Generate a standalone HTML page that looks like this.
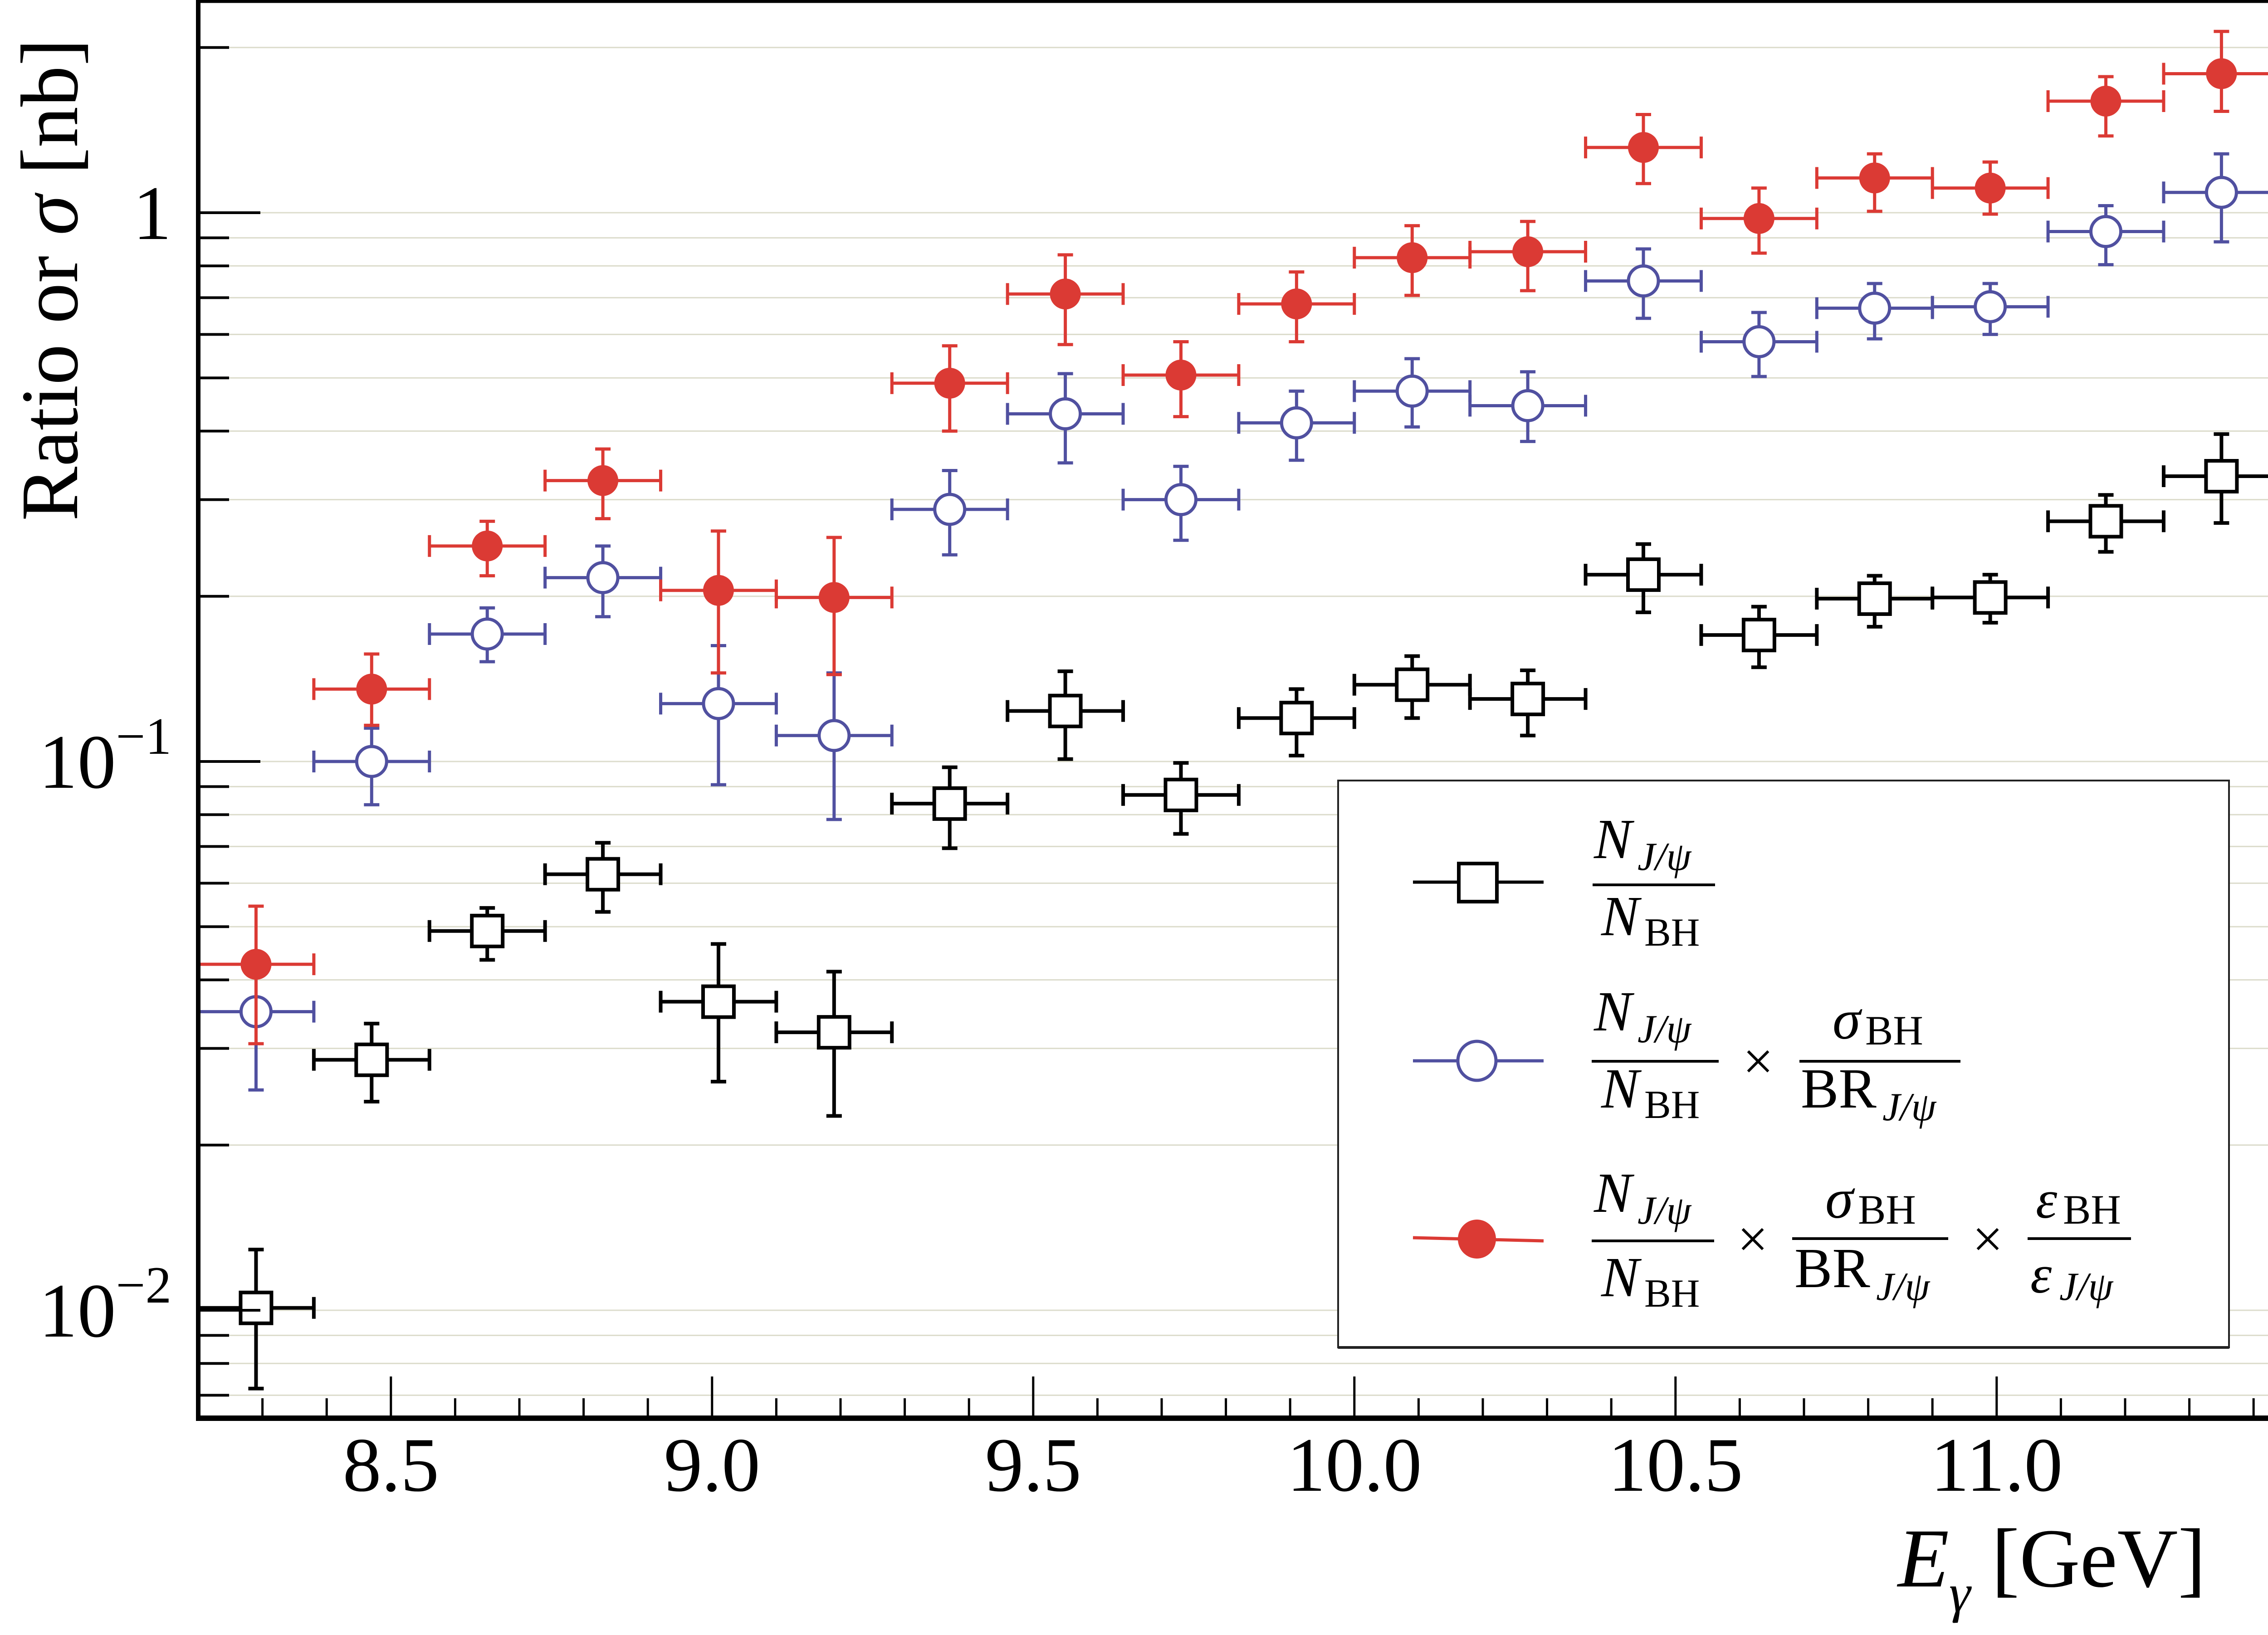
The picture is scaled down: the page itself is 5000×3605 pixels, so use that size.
<!DOCTYPE html>
<html><head><meta charset="utf-8"><style>
html,body{margin:0;padding:0;background:#fff;}
svg{display:block;}
text{font-family:"Liberation Serif",serif;}
</style></head><body>
<svg id="chart" width="5000" height="3605" viewBox="0 0 5000 3605" xmlns="http://www.w3.org/2000/svg">
<g id="grid"></g>
<g id="series"></g>
<g id="axes"></g>
<g id="legend">
<rect x="2950" y="1721" width="1964" height="1250" fill="#fff" stroke="#222" stroke-width="4"/>
<line x1="2950" y1="2971" x2="4914" y2="2971" stroke="#222" stroke-width="6"/>
<g>
<line x1="3115" y1="1945" x2="3403" y2="1945" stroke="#000" stroke-width="7"/>
<rect x="3216" y="1904" width="84" height="84" fill="#fff" stroke="#000" stroke-width="8"/>
<text x="3514" y="1892" font-size="125" font-style="italic">N</text>
<text x="3610" y="1918" font-size="88" font-style="italic">J/ψ</text>
<rect x="3511" y="1948" width="270" height="6" fill="#000"/>
<text x="3530" y="2062" font-size="125" font-style="italic">N</text>
<text x="3625" y="2085" font-size="88">BH</text>
</g>
<g>
<line x1="3115" y1="2339" x2="3403" y2="2339" stroke="#5050a0" stroke-width="7"/>
<ellipse cx="3256" cy="2339" rx="42" ry="43" fill="#fff" stroke="#5050a0" stroke-width="7"/>
<text x="3514" y="2272" font-size="125" font-style="italic">N</text>
<text x="3610" y="2298" font-size="88" font-style="italic">J/ψ</text>
<rect x="3509" y="2337" width="280" height="6" fill="#000"/>
<text x="3530" y="2442" font-size="125" font-style="italic">N</text>
<text x="3625" y="2465" font-size="88">BH</text>
<text x="3876" y="2380" font-size="120" text-anchor="middle">×</text>
<text x="4040" y="2290" font-size="125" font-style="italic">σ</text>
<text x="4112" y="2303" font-size="92">BH</text>
<rect x="3967" y="2337" width="355" height="6" fill="#000"/>
<text x="3970" y="2442" font-size="125">BR</text>
<text x="4150" y="2470" font-size="88" font-style="italic">J/ψ</text>
</g>
<g>
<line x1="3115" y1="2729" x2="3403" y2="2736" stroke="#db3a34" stroke-width="7"/>
<ellipse cx="3256" cy="2732" rx="42" ry="43" fill="#db3a34"/>
<text x="3514" y="2672" font-size="125" font-style="italic">N</text>
<text x="3610" y="2698" font-size="88" font-style="italic">J/ψ</text>
<rect x="3509" y="2733" width="270" height="6" fill="#000"/>
<text x="3530" y="2858" font-size="125" font-style="italic">N</text>
<text x="3625" y="2881" font-size="88">BH</text>
<text x="3864" y="2772" font-size="120" text-anchor="middle">×</text>
<text x="4024" y="2685" font-size="125" font-style="italic">σ</text>
<text x="4096" y="2698" font-size="92">BH</text>
<rect x="3951" y="2728" width="344" height="6" fill="#000"/>
<text x="3956" y="2838" font-size="125">BR</text>
<text x="4136" y="2866" font-size="88" font-style="italic">J/ψ</text>
<text x="4382" y="2772" font-size="120" text-anchor="middle">×</text>
<text x="4488" y="2685" font-size="120" font-style="italic">ε</text>
<text x="4548" y="2698" font-size="92">BH</text>
<rect x="4470" y="2728" width="228" height="6" fill="#000"/>
<text x="4476" y="2850" font-size="120" font-style="italic">ε</text>
<text x="4540" y="2866" font-size="88" font-style="italic">J/ψ</text>
</g>
</g>
<text x="4863" y="3498" font-size="185" text-anchor="end"><tspan font-style="italic">E</tspan><tspan font-size="120" font-style="italic" dy="55">γ</tspan><tspan dy="-55"> [GeV]</tspan></text>
<text transform="translate(170,617) rotate(-90)" font-size="180" text-anchor="middle">Ratio or <tspan font-style="italic">σ</tspan> [nb]</text>
</svg>
<script>
const energies = [8.29,8.47,8.65,8.83,9.01,9.19,9.37,9.55,9.73,9.91,10.09,10.27,10.45,10.63,10.81,10.99,11.17,11.35];
const binHalfWidth = 0.09;
const ratioVals = [0.0101,0.0286,0.0491,0.0623,0.0365,0.0321,0.0838,0.1236,0.0869,0.120,0.138,0.130,0.219,0.170,0.198,0.199,0.274,0.331];
const ratioHi = [0.0129,0.0333,0.0541,0.0711,0.0465,0.0414,0.0976,0.146,0.0994,0.1355,0.1556,0.1466,0.249,0.1915,0.218,0.219,0.306,0.395];
const ratioLo = [0.0072,0.0240,0.0435,0.0532,0.0261,0.0226,0.0695,0.101,0.0738,0.1025,0.120,0.1115,0.187,0.1485,0.176,0.179,0.241,0.272];
const blueVals = [0.0350,0.100,0.1707,0.2163,0.1275,0.1115,0.288,0.430,0.300,0.414,0.473,0.445,0.751,0.582,0.670,0.674,0.924,1.089];
const blueHi = [0.0422,0.115,0.1905,0.247,0.1626,0.145,0.339,0.509,0.345,0.473,0.542,0.513,0.859,0.658,0.743,0.743,1.03,1.28];
const blueLo = [0.0252,0.0834,0.152,0.1836,0.0907,0.0784,0.238,0.350,0.253,0.354,0.407,0.383,0.642,0.503,0.589,0.600,0.804,0.885];
const redVals = [0.0427,0.1355,0.247,0.325,0.205,0.199,0.489,0.711,0.506,0.682,0.828,0.849,1.315,0.976,1.157,1.109,1.597,1.792];
const redHi = [0.0545,0.157,0.274,0.371,0.263,0.256,0.572,0.838,0.582,0.780,0.947,0.964,1.51,1.109,1.28,1.237,1.77,2.14];
const redLo = [0.0306,0.1164,0.218,0.277,0.145,0.144,0.400,0.575,0.425,0.582,0.707,0.721,1.13,0.844,1.006,0.994,1.38,1.53];
const xMajorTicks = [8.5,9.0,9.5,10.0,10.5,11.0];
const xTickLabels = ["8.5","9.0","9.5","10.0","10.5","11.0"];
const yDecades = [0.01,0.1,1];

const NS="http://www.w3.org/2000/svg";
const X0=437, Y0=3127, W=5000;
function xp(e){return X0+(e-8.2)*1416;}
function yp(v){return 469-1210*Math.log10(v);}
function mk(tag,attrs,parent){const el=document.createElementNS(NS,tag);for(const k in attrs)el.setAttribute(k,attrs[k]);parent.appendChild(el);return el;}
const grid=document.getElementById('grid'), axes=document.getElementById('axes'), ser=document.getElementById('series');

// grid + y ticks
for(let d=0.001; d<10; d*=10){
  for(let m=1;m<=9;m++){
    const v=d*m, y=yp(v);
    if(y<0||y>Y0) continue;
    const gl=mk('line',{x1:X0,y1:y,x2:W,y2:y,stroke:'#dcdccc','stroke-width':3},grid);
    
    
    const t=mk('line',{x1:X0,y1:y,x2:X0+(m===1?137:68),y2:y,stroke:'#000','stroke-width':6},axes);
    
    
  }
}
// y labels
yDecades.forEach(v=>{
  const y=yp(v);
  const t=mk('text',{x:378,y:y+58,'font-size':170,'text-anchor':'end'},axes);
  
  
  if(v===1){t.textContent='1';}
  else{
    const e=Math.round(Math.log10(v));
    const a=document.createElementNS(NS,'tspan');a.textContent='10';t.appendChild(a);
    const b=document.createElementNS(NS,'tspan');b.setAttribute('font-size','115');b.setAttribute('dy','-75');b.textContent='−'+(-e);t.appendChild(b);
  }
});
// x ticks
for(let i=1;i<=32;i++){
  const e=8.2+i*0.1, x=xp(e);
  if(x>W) break;
  const major=xMajorTicks.some(m=>Math.abs(m-e)<1e-6);
  const t=mk('line',{x1:x,y1:Y0,x2:x,y2:Y0-(major?92:44),stroke:'#000','stroke-width':5},axes);
  
  
}
xMajorTicks.forEach((e,i)=>{
  const t=mk('text',{x:xp(e),y:3287,'font-size':170,'text-anchor':'middle'},axes);
  
  
  t.textContent=xTickLabels[i];
});
// axis lines
let a1=mk('line',{x1:X0,y1:0,x2:X0,y2:Y0+6,stroke:'#000','stroke-width':10},axes);


let a2=mk('line',{x1:X0-5,y1:Y0,x2:W,y2:Y0,stroke:'#000','stroke-width':12},axes);


let a3=mk('line',{x1:X0,y1:3,x2:W,y2:3,stroke:'#000','stroke-width':7},axes);



function drawSeries(vals,hi,lo,color,kind,name){
  const g=mk('g',{},ser);
  
  
  vals.forEach((v,i)=>{
    const cx=xp(energies[i]), cy=yp(v);
    const xl=xp(energies[i]-binHalfWidth), xr=xp(energies[i]+binHalfWidth);
    const yh=yp(hi[i]), yl=yp(lo[i]);
    const p=mk('g',{stroke:color,'stroke-width':kind==='square'?8:7,fill:'none'},g);
    
    
    mk('line',{x1:xl,y1:cy,x2:xr,y2:cy},p);
    mk('line',{x1:cx,y1:yh,x2:cx,y2:yl},p);
    mk('line',{x1:xl,y1:cy-24,x2:xl,y2:cy+24},p);
    mk('line',{x1:xr,y1:cy-24,x2:xr,y2:cy+24},p);
    mk('line',{x1:cx-17,y1:yh,x2:cx+17,y2:yh},p);
    mk('line',{x1:cx-17,y1:yl,x2:cx+17,y2:yl},p);
    if(kind==='square') mk('rect',{x:cx-34,y:cy-34,width:68,height:68,fill:'#fff'},p);
    else if(kind==='open') mk('circle',{cx:cx,cy:cy,r:33,fill:'#fff'},p);
    else mk('circle',{cx:cx,cy:cy,r:34,fill:color,stroke:'none'},p);
  });
}
drawSeries(ratioVals,ratioHi,ratioLo,'#000','square','series-ratio');
drawSeries(blueVals,blueHi,blueLo,'#5050a0','open','series-scaled-ratio');
drawSeries(redVals,redHi,redLo,'#db3a34','filled','series-cross-section');
</script>
</body></html>
